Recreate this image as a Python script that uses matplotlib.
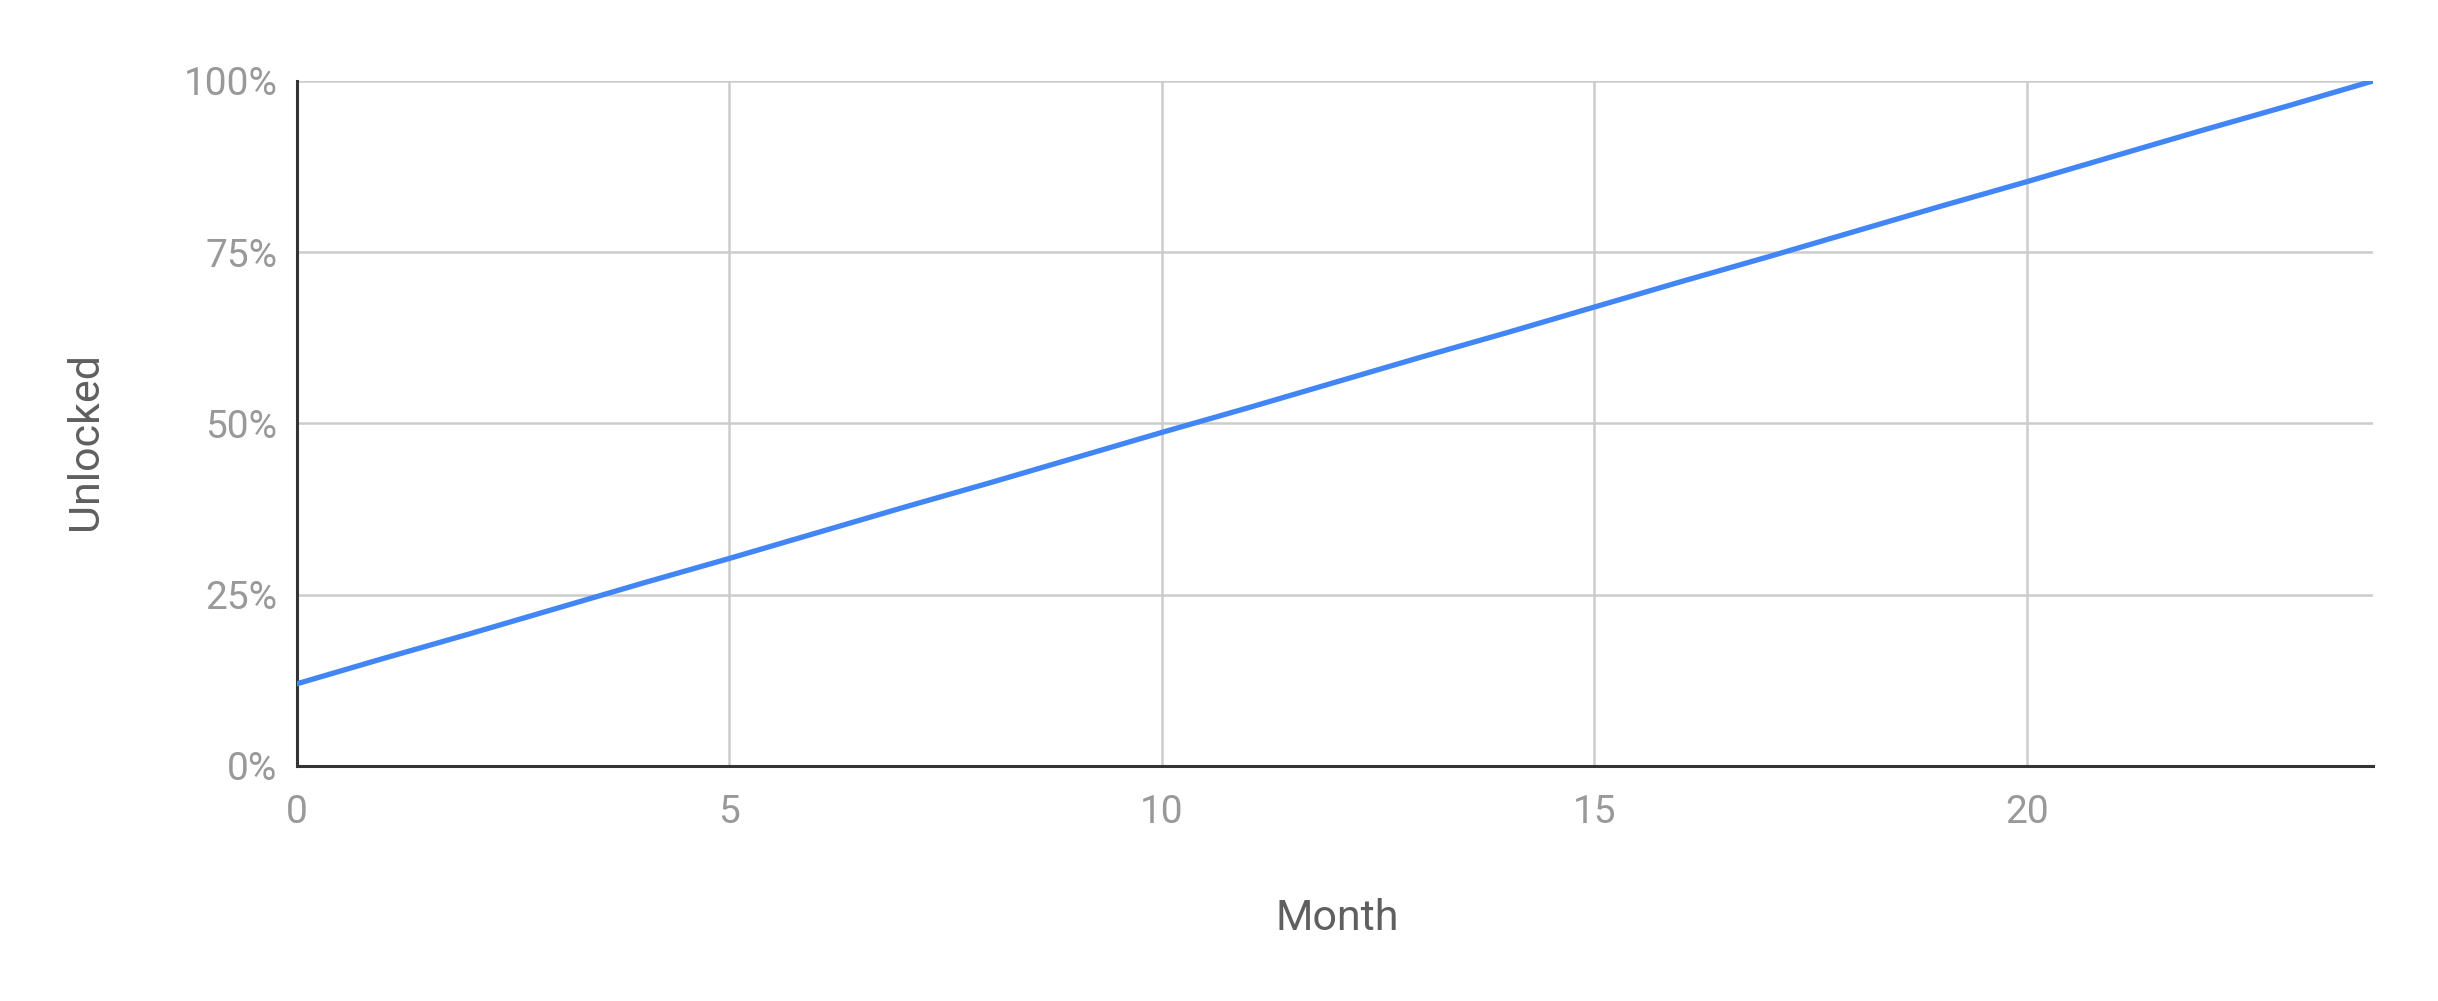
import matplotlib
matplotlib.use('Agg')
import matplotlib.pyplot as plt
from matplotlib.ticker import PercentFormatter

# unlock schedule (percent unlocked per month)
months = list(range(0, 25))
unlocked = [12.0, 15.7, 19.3, 23.0, 26.7, 30.3, 34.0, 37.7, 41.3, 45.0,
            48.7, 52.3, 56.0, 59.7, 63.3, 67.0, 70.7, 74.3, 78.0, 81.7,
            85.3, 89.0, 92.7, 96.3, 100.0]
xticks = [0, 5, 10, 15, 20]
yticks = [0, 25, 50, 75, 100]

plt.rcParams['font.family'] = ['Roboto', 'DejaVu Sans']

fig = plt.figure(figsize=(24.38, 10.01), dpi=100)
ax = fig.add_axes([0.1218, 0.2348, 0.9733 - 0.1218, 0.9191 - 0.2348])

ax.plot(months, unlocked, color='#4285F4', lw=3.8, solid_capstyle='round', zorder=3)

ax.set_xlim(0, 24)
ax.set_ylim(0, 100)
ax.set_xticks(xticks)
ax.set_yticks(yticks)
ax.yaxis.set_major_formatter(PercentFormatter(decimals=0))

ax.grid(True, color='#cccccc', lw=1.8, zorder=0)
ax.set_axisbelow(True)
for s in ['top', 'right']:
    ax.spines[s].set_visible(False)
for s in ['left', 'bottom']:
    ax.spines[s].set_color('#333333')
    ax.spines[s].set_linewidth(2.2)

ax.tick_params(axis='both', length=0, labelsize=28, labelcolor='#999999')
ax.tick_params(axis='y', pad=14)
ax.tick_params(axis='x', pad=20)

fig.text(0.5484, 1 - 919 / 1001, 'Month', ha='center', va='center',
         fontsize=31, color='#5f5f5f')
fig.text(85 / 2438, 1 - 441 / 1001, 'Unlocked', ha='center', va='center',
         rotation=90, fontsize=31, color='#5f5f5f')

fig.savefig('out.png', dpi=100, facecolor='white')
